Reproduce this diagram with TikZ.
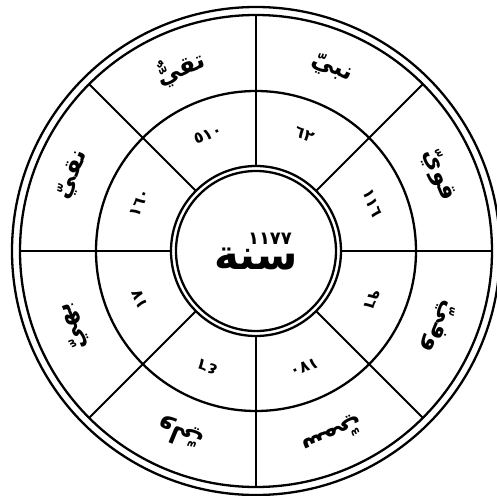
\documentclass[tikz,border=0pt]{standalone}
\usepackage{fontspec}
\newfontfamily\arabicfont[Script=Arabic]{DejaVu Sans}
\TeXXeTstate=1
\begin{document}
\begin{tikzpicture}[x=1pt,y=1pt,
  ring/.style={line width=2.3pt},
  spoke/.style={line width=2.1pt},
  word/.style={font=\arabicfont\bfseries\fontsize{24}{24}\selectfont, inner sep=0pt},
  num/.style={font=\arabicfont\bfseries\fontsize{16}{16}\selectfont, inner sep=0pt},
  title/.style={font=\arabicfont\bfseries\fontsize{42}{42}\selectfont, inner sep=0pt},
  year/.style={font=\arabicfont\bfseries\fontsize{18}{18}\selectfont, inner sep=0pt}]
\useasboundingbox (-256,-245) rectangle (240,251);
\fill[white] (-256,-245) rectangle (240,251);
% rings
\draw[ring] (0,0) circle (244);
\draw[ring] (0,0) circle (236);
\draw[ring] (0,0) circle (160);
\draw[ring] (0,0) circle (85);
\draw[ring] (0,0) circle (80);
% spokes
\foreach \a in {0,45,...,315} {
  \coordinate (in\a) at (\a:85);
  \coordinate (out\a) at (\a:236);
  \draw[spoke] (in\a) -- (out\a);
}
% outer words
\node[word, rotate=-22.5] (w1) at (67.5:198) {\beginR نبيّ\endR};
\node[word, rotate=22.5] (w2) at (112.5:198) {\beginR تقيٌّ\endR};
\node[word, rotate=67.5] (w3) at (157.5:198) {\beginR نقيّ\endR};
\node[word, rotate=112.5] (w4) at (202.5:198) {\beginR بهيّ\endR};
\node[word, rotate=157.5] (w5) at (247.5:198) {\beginR وليّ\endR};
\node[word, rotate=202.5] (w6) at (292.5:198) {\beginR سميّ\endR};
\node[word, rotate=247.5] (w7) at (337.5:198) {\beginR وفيّ\endR};
\node[word, rotate=-67.5] (w8) at (22.5:198) {\beginR قويّ\endR};
% inner numbers
\node[num, rotate=-22.5] (n1) at (67.5:126) {٦٢};
\node[num, rotate=22.5] (n2) at (112.5:126) {٥١٠};
\node[num, rotate=67.5] (n3) at (157.5:126) {١٦٠};
\node[num, rotate=112.5] (n4) at (202.5:126) {١٧};
\node[num, rotate=157.5] (n5) at (247.5:126) {٤٦};
\node[num, rotate=202.5] (n6) at (292.5:126) {١٧٠};
\node[num, rotate=247.5] (n7) at (337.5:126) {٩٦};
\node[num, rotate=-67.5] (n8) at (22.5:126) {١١٦};
% centre
\node[title] (sana) at (0,-8) {\beginR سنة\endR};
\node[year] (yr) at (14,12) {١١٧٧};
\end{tikzpicture}
\end{document}
